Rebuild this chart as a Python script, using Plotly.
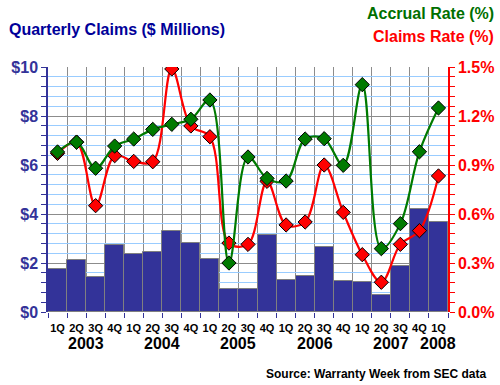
import plotly.graph_objects as go

quarters = ["1Q","2Q","3Q","4Q"]*5 + ["1Q"]
years = ["2003","2004","2005","2006","2007","2008"]
claims = [1.74, 2.11, 1.42, 2.72, 2.35, 2.45, 3.29, 2.80, 2.15, 0.93, 0.93,
          3.13, 1.29, 1.46, 2.64, 1.25, 1.21, 0.68, 1.87, 4.19, 3.66]
accrual_rate = [0.98, 1.04, 0.88, 1.016, 1.059, 1.118, 1.149, 1.180, 1.298, 0.300, 0.949,
                0.818, 0.802, 1.059, 1.061, 0.898, 1.392, 0.388, 0.541, 0.981, 1.249]
claims_rate = [0.971, 1.04, 0.651, 0.957, 0.922, 0.920, 1.488, 1.139, 1.073, 0.422, 0.414,
               0.80, 0.533, 0.551, 0.900, 0.610, 0.351, 0.182, 0.414, 0.498, 0.833]
left_ticks = [0, 2, 4, 6, 8, 10]
right_ticks = [0.0, 0.3, 0.6, 0.9, 1.2, 1.5]

x = list(range(len(claims)))
FONT = "Arial, Liberation Sans, sans-serif"
W, H = 500, 385
L, R, T, B = 48, 52, 67, 73

def fx(px):
    return (px - L) / (W - L - R)

def fy(py):
    return 1 - (py - T) / (H - T - B)

fig = go.Figure()
fig.add_trace(go.Bar(x=x, y=claims, marker=dict(color="#333399", line=dict(color="#808080", width=1)),
                     width=1, yaxis="y", showlegend=False, hoverinfo="y"))
fig.add_trace(go.Scatter(x=x, y=claims_rate, yaxis="y2", mode="lines+markers",
                         line=dict(color="#FF0000", width=2.2, shape="spline", smoothing=1),
                         marker=dict(symbol="diamond", size=11, color="#FF0000",
                                     line=dict(color="black", width=1)), showlegend=False))
fig.add_trace(go.Scatter(x=x, y=accrual_rate, yaxis="y2", mode="lines+markers",
                         line=dict(color="#007A00", width=2.2, shape="spline", smoothing=1),
                         marker=dict(symbol="diamond", size=11, color="#007A00",
                                     line=dict(color="black", width=1)), showlegend=False))

annotations = []
for i, yr in enumerate(years):
    idx = [k for k in x if k // 4 == i]
    cx = sum(idx) / len(idx)
    annotations.append(dict(x=cx, y=0, xref="x", yref="paper", yshift=-21, text=yr, showarrow=False,
                            font=dict(family=FONT, size=16, color="black", weight="bold"),
                            xanchor="center", yanchor="top"))

annotations += [
    dict(x=fx(7), y=fy(30), xref="paper", yref="paper", xanchor="left", yanchor="middle",
         text="Quarterly Claims ($ Millions)", showarrow=False,
         font=dict(family=FONT, size=16, color="#000099", weight="bold")),
    dict(x=fx(496), y=fy(13), xref="paper", yref="paper", xanchor="right", yanchor="middle",
         text="Accrual Rate (%)", showarrow=False,
         font=dict(family=FONT, size=16, color="#006F00", weight="bold")),
    dict(x=fx(496), y=fy(36), xref="paper", yref="paper", xanchor="right", yanchor="middle",
         text="Claims Rate (%)", showarrow=False,
         font=dict(family=FONT, size=16, color="#FF0000", weight="bold")),
    dict(x=fx(488), y=fy(374), xref="paper", yref="paper", xanchor="right", yanchor="middle",
         text="Source: Warranty Week from SEC data", showarrow=False,
         font=dict(family=FONT, size=12, color="black", weight="bold")),
]

fig.update_layout(
    width=W, height=H,
    margin=dict(l=L, r=R, t=T, b=B, autoexpand=False),
    paper_bgcolor="white", plot_bgcolor="white",
    bargap=0,
    xaxis=dict(range=[-0.5, len(x) - 0.5], tickmode="array", tickvals=x, ticktext=quarters,
               showgrid=False, zeroline=False, showline=False, automargin=False,
               ticks="outside", ticklen=6, tickcolor="rgba(0,0,0,0)",
               tickfont=dict(family=FONT, size=11, color="black", weight="bold"),
               minor=dict(tickmode="linear", tick0=-0.5, dtick=1, showgrid=True, gridcolor="#8C8C8C",
                          gridwidth=1, ticks="outside", ticklen=5, tickcolor="#333399")),
    yaxis=dict(range=[0, 10], tickvals=left_ticks, ticktext=[f"${v}" for v in left_ticks],
               showgrid=True, gridcolor="#8C8C8C", gridwidth=1, zeroline=False, automargin=False,
               showline=True, linecolor="#333399", linewidth=1.5,
               ticks="outside", ticklen=5, tickcolor="#333399",
               tickfont=dict(family=FONT, size=16, color="#333399", weight="bold"),
               minor=dict(tickmode="linear", tick0=0, dtick=0.4, showgrid=True, gridcolor="#99CCFF",
                          ticks="outside", ticklen=5, tickcolor="#333399")),
    yaxis2=dict(range=[0, 1.5], overlaying="y", side="right", tickvals=right_ticks,
                ticktext=[f"{v:.1f}%" for v in right_ticks], showgrid=False, zeroline=False,
                showline=True, linecolor="#FF0000", linewidth=1.5, automargin=False,
                ticks="outside", ticklen=5, tickcolor="#FF0000",
                tickfont=dict(family=FONT, size=16, color="#FF0000", weight="bold"),
                minor=dict(tickmode="linear", tick0=0, dtick=0.06, showgrid=False,
                           ticks="outside", ticklen=5, tickcolor="#FF0000")),
    annotations=annotations,
)

fig.write_html("out.html", config={"displayModeBar": False})
with open("out.html", "r", encoding="utf-8") as f:
    html = f.read()
html = html.replace("<head>", "<head><style>html,body{margin:0;padding:0;overflow:hidden;}</style>", 1)
with open("out.html", "w", encoding="utf-8") as f:
    f.write(html)
